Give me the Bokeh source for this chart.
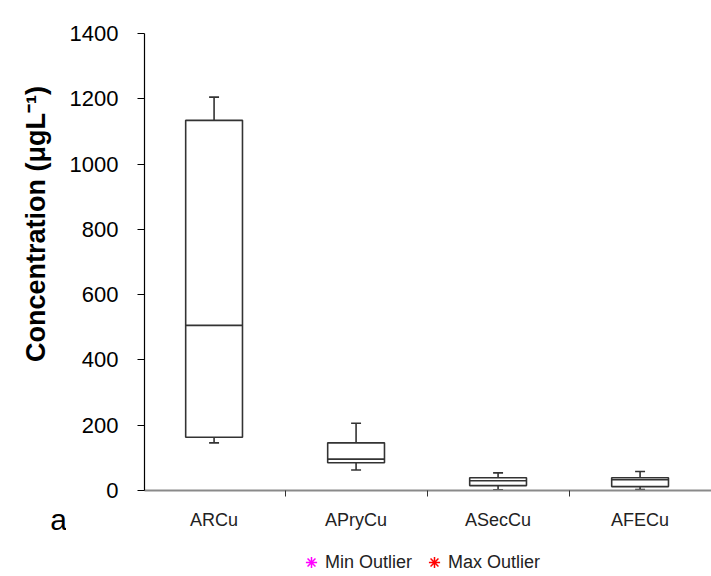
import numpy as np
from bokeh.plotting import figure
from bokeh.layouts import column, row
from bokeh.models import (ColumnDataSource, FixedTicker, Label, Legend, LegendItem,
                          Range1d)
from bokeh.embed import file_html
from bokeh.resources import INLINE

# ---- data ----
categories = ["ARCu", "APryCu", "ASecCu", "AFECu"]
whisker_min = [146, 63, 2, 3]
q1 = [163, 85, 15, 12]
median = [506, 96, 30, 33]
q3 = [1134, 146, 39, 39]
whisker_max = [1205, 206, 54, 58]
# no outliers are present in this chart
min_outliers_x, min_outliers_y = [np.nan], [np.nan]
max_outliers_x, max_outliers_y = [np.nan], [np.nan]
y_ticks = [0, 200, 400, 600, 800, 1000, 1200, 1400]
y_title = "Concentration (μgL⁻¹)"
panel_letter = "a"

FONT = "Liberation Sans"
W, H = 711, 576
W_LEFT = 66
W_MAIN = W - W_LEFT
H_MAIN, H_LEG = 545, 31
FL, FT, FB = 144, 33, 490          # frame left/top/bottom in page px
unit_px = 142.0
x_start = 0.01
x_end = x_start + (W - FL) / unit_px


def bare(fig):
    fig.outline_line_color = None
    fig.grid.visible = False
    fig.background_fill_color = "white"
    fig.border_fill_color = "white"


# ---- left strip: axis title and panel letter ----
pl = figure(width=W_LEFT, height=H, output_backend="svg", toolbar_location=None,
            x_range=Range1d(0, W_LEFT), y_range=Range1d(0, H),
            x_axis_location=None, y_axis_location=None,
            min_border_left=0, min_border_right=0, min_border_top=0, min_border_bottom=0)
bare(pl)
pl.add_layout(Label(x=35, y=H - 223.5, text=y_title, angle=np.pi / 2,
                    text_align="center", text_baseline="middle", text_font=FONT,
                    text_font_style="bold", text_font_size="27px", text_color="black"))
pl.add_layout(Label(x=58, y=H - 519, text=panel_letter, text_align="center",
                    text_baseline="middle", text_font=FONT, text_font_size="30px",
                    text_color="black"))

# ---- main box plot ----
p = figure(width=W_MAIN, height=H_MAIN, output_backend="svg", toolbar_location=None,
           x_range=Range1d(x_start, x_end), y_range=Range1d(0, 1400),
           min_border_left=FL - W_LEFT, min_border_right=0, min_border_top=FT,
           min_border_bottom=H_MAIN - FB)
bare(p)

xc = [i + 0.5 for i in range(len(categories))]
src = ColumnDataSource(dict(x=xc, lo=whisker_min, q1=q1, med=median, q3=q3, hi=whisker_max,
                            cap_l=[x - 0.035 for x in xc], cap_r=[x + 0.035 for x in xc],
                            box_l=[x - 0.2 for x in xc], box_r=[x + 0.2 for x in xc]))

LC = "#333333"
LW = 1.6
p.segment(x0="x", y0="q3", x1="x", y1="hi", source=src, line_color=LC, line_width=LW)
p.segment(x0="x", y0="q1", x1="x", y1="lo", source=src, line_color=LC, line_width=LW)
p.segment(x0="cap_l", y0="hi", x1="cap_r", y1="hi", source=src, line_color=LC, line_width=LW)
p.segment(x0="cap_l", y0="lo", x1="cap_r", y1="lo", source=src, line_color=LC, line_width=LW)
p.quad(left="box_l", right="box_r", bottom="q1", top="q3", source=src,
       fill_color="white", line_color=LC, line_width=LW)
p.segment(x0="box_l", y0="med", x1="box_r", y1="med", source=src, line_color=LC, line_width=LW)

ya = p.yaxis[0]
ya.ticker = FixedTicker(ticks=y_ticks)
ya.axis_line_color = "black"
ya.axis_line_width = 1.2
ya.major_tick_line_color = "black"
ya.major_tick_out = 7
ya.major_tick_in = 0
ya.minor_tick_line_color = None
ya.major_label_standoff = 19
ya.major_label_text_font = FONT
ya.major_label_text_font_size = "22px"
ya.major_label_text_color = "black"

xa = p.xaxis[0]
xa.ticker = FixedTicker(ticks=xc, minor_ticks=list(range(len(categories) + 1)))
xa.major_label_overrides = {x: c for x, c in zip(xc, categories)}
xa.axis_line_color = "#8a8a8a"
xa.axis_line_width = 2
xa.major_tick_line_color = None
xa.minor_tick_line_color = "#333333"
xa.minor_tick_out = 6
xa.minor_tick_in = 0
xa.major_label_standoff = 13
xa.major_label_text_font = FONT
xa.major_label_text_font_size = "18px"
xa.major_label_text_color = "#222222"

# ---- legend strip (its frame is aligned with the main frame by the column) ----
p2 = figure(width=W_MAIN, height=H_LEG, output_backend="svg", toolbar_location=None,
            x_range=Range1d(0, 1), y_range=Range1d(0, 1),
            x_axis_location=None, y_axis_location=None,
            min_border_left=0, min_border_right=0, min_border_top=0, min_border_bottom=0)
bare(p2)
r_min = p2.scatter(min_outliers_x, min_outliers_y, marker="asterisk", size=11,
                   line_color="#FF00FF", line_width=1.5)
r_max = p2.scatter(max_outliers_x, max_outliers_y, marker="asterisk", size=11,
                   line_color="#FF0000", line_width=1.5)
legend = Legend(items=[LegendItem(label="Min Outlier", renderers=[r_min]),
                       LegendItem(label="Max Outlier", renderers=[r_max])],
                orientation="horizontal", location=(297 - FL, 0),
                border_line_color=None, background_fill_alpha=0,
                padding=0, margin=0, spacing=8, glyph_width=28, glyph_height=28,
                label_standoff=0, label_text_font=FONT, label_text_font_size="18px",
                label_text_color="#222222")
p2.add_layout(legend, "center")

layout = row(pl, column(p, p2, spacing=0), spacing=0)
open("out.html", "w").write(file_html(layout, INLINE))
